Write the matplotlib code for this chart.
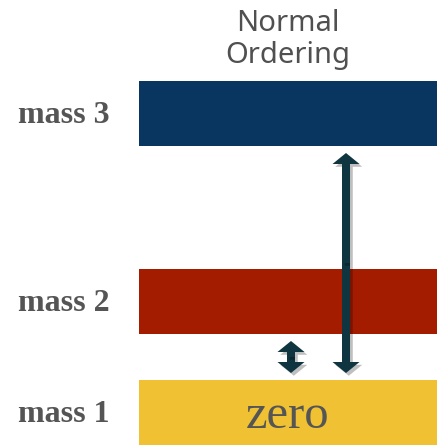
# neutrino mass ordering sketch (normal ordering)

import matplotlib
matplotlib.use('Agg')
import matplotlib.pyplot as plt
import matplotlib.patheffects as pe

# data
masses = ['mass 1', 'mass 2', 'mass 3']
levels = [0, 111, 299]          # bar centres, arbitrary units
bar_height = 65
title = 'Normal\nOrdering'
lightest_label = 'zero'
# splittings drawn as arrows: (from mass index, to mass index)
splittings = [(0, 1), (0, 2)]

colors = ['#f0c132', '#a31c00', '#083661']
arrow_color = '#0e3540'
text_gray = '#555555'

fig = plt.figure(figsize=(4.37, 4.47), dpi=100)
ax = fig.add_axes([0, 0, 1, 1])
ax.set_xlim(0, 437)
ax.set_ylim(-34.5, 412.5)
ax.axis('off')

bar_left = 139
bar_width = 310
ax.barh(levels, bar_width, left=bar_left, height=bar_height, color=colors,
        edgecolor='none')

for name, y in zip(masses, levels):
    ax.text(64, y - 2, name, ha='center', va='center', fontsize=23,
            fontweight='bold', family='Liberation Serif', color=text_gray)

ax.text(288, levels[0] - 3, lightest_label, ha='center', va='center',
        fontsize=35, family='Liberation Serif', color=text_gray)

ax.text(288, 373, title, ha='center', va='center', fontsize=21,
        family='Noto Sans', color='#505050', linespacing=1.15)

# arrows between levels
arrow_x = [291, 346]
gap = 7
for (lo, hi), x in zip(splittings, arrow_x):
    y0 = levels[lo] + bar_height / 2 + gap
    y1 = levels[hi] - bar_height / 2 - gap
    mid = (y0 + y1) / 2
    for end in (y0, y1):
        a = ax.arrow(x, mid, 0, end - mid, width=8, head_width=27,
                     head_length=11, length_includes_head=True,
                     color=arrow_color, lw=0)
        a.set_path_effects([pe.withSimplePatchShadow(offset=(2, -2),
                                                     shadow_rgbFace='k',
                                                     alpha=0.25)])

fig.savefig('out.png', dpi=100)
